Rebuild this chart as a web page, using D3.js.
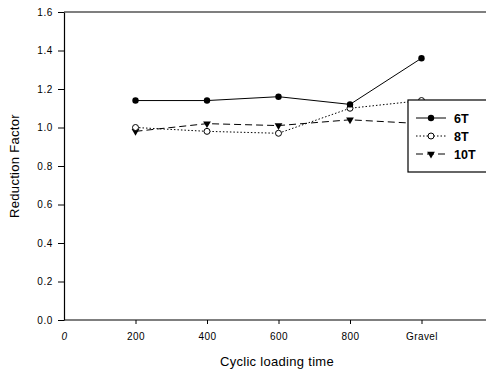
<!DOCTYPE html>
<html>
<head>
<meta charset="utf-8">
<script src="https://cdn.jsdelivr.net/npm/d3@7"></script>
<style>
  body { margin: 0; background: #fff; }
  text { font-family: Arial, "Liberation Sans", sans-serif; }
</style>
</head>
<body>
<div id="chart"></div>
<script>
// data
let xValues = [200, 400, 600, 800, 1000];
let xTicks = [0, 200, 400, 600, 800, 1000];
let xTickLabels = ["0", "200", "400", "600", "800", "Gravel"];
let yTicks = [0, 0.2, 0.4, 0.6, 0.8, 1.0, 1.2, 1.4, 1.6];
let seriesNames = ["6T", "8T", "10T"];
let values6T = [1.14, 1.14, 1.16, 1.12, 1.36];
let values8T = [1.00, 0.98, 0.97, 1.10, 1.14];
let values10T = [0.98, 1.02, 1.01, 1.04, 1.02];

let width = 486;
let height = 372;
let margin = { top: 12, right: 0, bottom: 52, left: 64 };

let svg = d3.select("#chart").append("svg")
  .attr("width", width)
  .attr("height", height);

let xScale = d3.scaleLinear().domain([0, 200]).range([margin.left, margin.left + 71.5]);
let yScale = d3.scaleLinear().domain([0, 1.6]).range([height - margin.bottom, margin.top]);

// top frame line
svg.append("line")
  .attr("x1", margin.left).attr("x2", width)
  .attr("y1", yScale(1.6)).attr("y2", yScale(1.6))
  .attr("stroke", "#000").attr("stroke-width", 1.2);

// axes
let xAxis = d3.axisBottom(xScale).tickValues(xTicks).tickSize(4).tickSizeOuter(0)
  .tickFormat((d, i) => xTickLabels[i]);
let gx = svg.append("g")
  .attr("transform", `translate(0,${yScale(0)})`)
  .call(xAxis);
gx.select(".domain").remove();
gx.append("line")
  .attr("x1", margin.left).attr("x2", width)
  .attr("stroke", "#000").attr("stroke-width", 1.2);
gx.selectAll(".tick text")
  .attr("font-size", 10).attr("letter-spacing", 0.4)
  .attr("y", 20).attr("dy", null).attr("fill", "#000");
gx.selectAll(".tick text").filter(d => d === 0).attr("font-style", "italic");
gx.selectAll(".tick line").filter(d => d === 0).remove();

let yAxis = d3.axisLeft(yScale).tickValues(yTicks).tickSize(6).tickPadding(5).tickSizeOuter(0)
  .tickFormat(d3.format(".1f"));
let gy = svg.append("g")
  .attr("transform", `translate(${margin.left},0)`)
  .call(yAxis);
gy.select(".domain").attr("stroke-width", 1.2);
gy.selectAll("text").attr("font-size", 10).attr("letter-spacing", 0.6).attr("fill", "#000");

// axis titles
svg.append("text")
  .attr("transform", `translate(19,${(yScale(0) + yScale(1.6)) / 2}) rotate(-90)`)
  .attr("text-anchor", "middle")
  .attr("font-size", 13).attr("letter-spacing", 0.3)
  .text("Reduction Factor");

svg.append("text")
  .attr("x", 277).attr("y", 366)
  .attr("text-anchor", "middle")
  .attr("font-size", 13).attr("letter-spacing", 0.3)
  .text("Cyclic loading time");

// series
let series = [
  { name: seriesNames[0], values: values6T, dash: null, marker: "fill" },
  { name: seriesNames[1], values: values8T, dash: "1.5,2", marker: "open" },
  { name: seriesNames[2], values: values10T, dash: "7,4", marker: "tri" }
];

let line = d3.line()
  .x((d, i) => xScale(xValues[i]))
  .y(d => yScale(d));

let tri = d3.symbol().type(d3.symbolTriangle).size(26);

function drawMarker(g, type, x, y) {
  if (type === "fill") {
    g.append("circle").attr("cx", x).attr("cy", y).attr("r", 3.2).attr("fill", "#000");
  } else if (type === "open") {
    g.append("circle").attr("cx", x).attr("cy", y).attr("r", 3).attr("fill", "#fff")
      .attr("stroke", "#000").attr("stroke-width", 1);
  } else {
    g.append("path").attr("d", tri())
      .attr("transform", `translate(${x},${y}) rotate(180)`)
      .attr("fill", "#000");
  }
}

// draw 10T, 8T, then 6T on top
series.slice().reverse().forEach(s => {
  let g = svg.append("g");
  g.append("path")
    .datum(s.values)
    .attr("d", line)
    .attr("fill", "none")
    .attr("stroke", "#000")
    .attr("stroke-width", 1)
    .attr("stroke-dasharray", s.dash);
  s.values.forEach((v, i) => drawMarker(g, s.marker, xScale(xValues[i]), yScale(v)));
});

// legend
let legend = svg.append("g");
legend.append("rect")
  .attr("x", 408).attr("y", 100)
  .attr("width", 90).attr("height", 72)
  .attr("fill", "#fff").attr("stroke", "#000").attr("stroke-width", 1.2);

series.forEach((s, i) => {
  let y = 118 + i * 18;
  legend.append("line")
    .attr("x1", 416).attr("x2", 446)
    .attr("y1", y).attr("y2", y)
    .attr("stroke", "#000").attr("stroke-width", 1)
    .attr("stroke-dasharray", s.dash);
  drawMarker(legend, s.marker, 431, y);
  legend.append("text")
    .attr("x", 454).attr("y", y + 4.5)
    .attr("font-size", 12.5).attr("font-weight", "bold")
    .text(s.name);
});
</script>
</body>
</html>
